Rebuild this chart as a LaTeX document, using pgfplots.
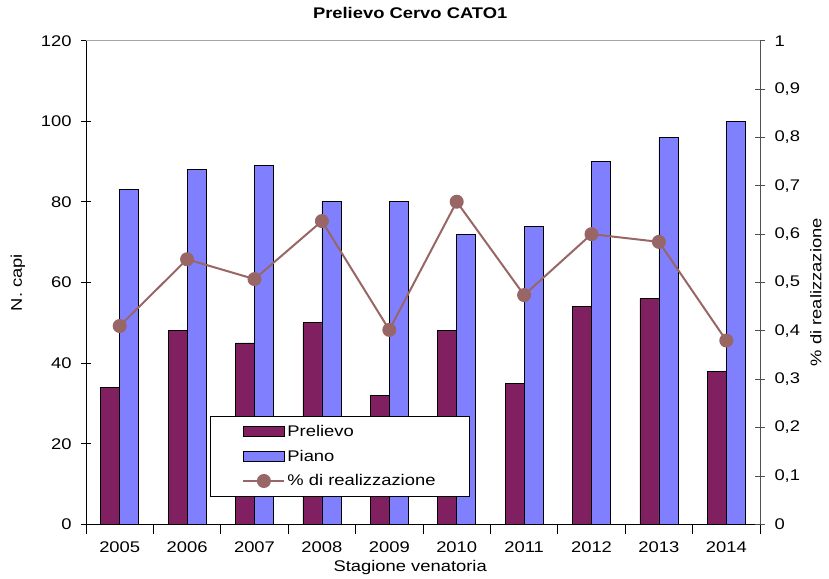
\documentclass[border=0pt]{standalone}
\usepackage{fontspec}
\setmainfont{Liberation Sans}[FakeStretch=1.19]
\usepackage{pgfplots}
\pgfplotsset{compat=1.18}

\definecolor{prel}{HTML}{802060}
\definecolor{piano}{HTML}{8080FF}
\definecolor{perc}{HTML}{996666}
\definecolor{frame}{HTML}{505050}

\pgfplotsset{
  rectleg/.style={legend image code/.code={\draw[##1] (0bp,-5bp) rectangle (41bp,5bp);}},
  lineleg/.style={legend image code/.code={\draw[##1,mark repeat=2,mark phase=2] plot coordinates {(0bp,0bp) (20.5bp,0bp) (41bp,0bp)};}},
  base/.style={
    scale only axis, width=674bp, height=483.6bp,
    xmin=-0.5, xmax=9.5,
    tick align=center,
    major tick length=10bp, minor tick length=10bp,
    axis line style={-},
    /pgf/number format/assume math mode=true,
  },
}

\begin{document}
\begin{tikzpicture}[font=\fontsize{15.5}{18}\selectfont]
\begin{axis}[base, name=ax,
    axis x line*=bottom, axis y line*=left,
    axis line style={black, line width=0.9bp},
    ymin=0, ymax=120, ytick={0,20,40,60,80,100,120},
    xtick={0,1,2,3,4,5,6,7,8,9},
    xticklabels={2005,2006,2007,2008,2009,2010,2011,2012,2013,2014},
    minor xtick={-0.5,0.5,1.5,2.5,3.5,4.5,5.5,6.5,7.5,8.5,9.5},
    major x tick style={draw=none},
    tick style={black, line width=0.8bp},
    xticklabel style={yshift=-4bp},
    yticklabel style={xshift=-6bp},
    ybar=0pt, bar width=19bp,
    ylabel={N. capi},
    ylabel style={at={(axis description cs:-0.1009,0.5)}, anchor=center},
    xlabel={Stagione venatoria},
    xlabel style={at={(axis description cs:0.481,-0.0966)}, anchor=base},
    title={Prelievo Cervo CATO1},
    title style={at={(axis description cs:0.481,1.0325)}, anchor=base,
      font=\bfseries\fontsize{15.5}{18}\selectfont},
  ]
  \addplot[fill=prel, draw=black, line width=0.8bp] coordinates
    {(0,34) (1,48) (2,45) (3,50) (4,32) (5,48) (6,35) (7,54) (8,56) (9,38)};
  \addplot[fill=piano, draw=black, line width=0.8bp] coordinates
    {(0,83) (1,88) (2,89) (3,80) (4,80) (5,72) (6,74) (7,90) (8,96) (9,100)};
\end{axis}
\begin{axis}[base,
    axis x line*=top, axis y line*=right,
    x axis line style={draw=gray!70, line width=0.9bp},
    y axis line style={draw=frame, line width=0.9bp},
    xtick=\empty,
    ymin=0, ymax=1,
    ytick={0,0.1,0.2,0.3,0.4,0.5,0.6,0.7,0.8,0.9,1},
    yticklabel style={xshift=6bp, /pgf/number format/.cd, use comma, fixed, precision=1},
    tick style={frame, line width=0.8bp},
    ylabel={\% di realizzazione},
    ylabel style={at={(axis description cs:1.083,0.48)}, anchor=center},
    legend style={at={(axis description cs:0.184,0.057)}, anchor=south west,
      draw=black, line width=0.8bp, fill=white, inner xsep=32bp, inner ysep=7bp,
      row sep=8bp, font=\fontsize{15.5}{18}\selectfont,
      nodes={inner xsep=2bp}},
    legend cell align=left,
  ]
  \addlegendimage{rectleg, fill=prel, draw=black, line width=0.8bp}
  \addlegendentry{Prelievo}
  \addlegendimage{rectleg, fill=piano, draw=black, line width=0.8bp}
  \addlegendentry{Piano}
  \addplot[lineleg, color=perc, line width=2bp, mark=*, mark size=6bp,
    mark options={fill=perc, draw=perc}] coordinates
    {(0,0.41) (1,0.548) (2,0.507) (3,0.627) (4,0.402) (5,0.667) (6,0.474) (7,0.600) (8,0.584) (9,0.380)};
  \addlegendentry{\% di realizzazione}
\end{axis}
\pgfresetboundingbox
\path[use as bounding box] (ax.south west) ++(-86bp,-54.7bp) rectangle ++(829bp,579bp);
\end{tikzpicture}
\end{document}
